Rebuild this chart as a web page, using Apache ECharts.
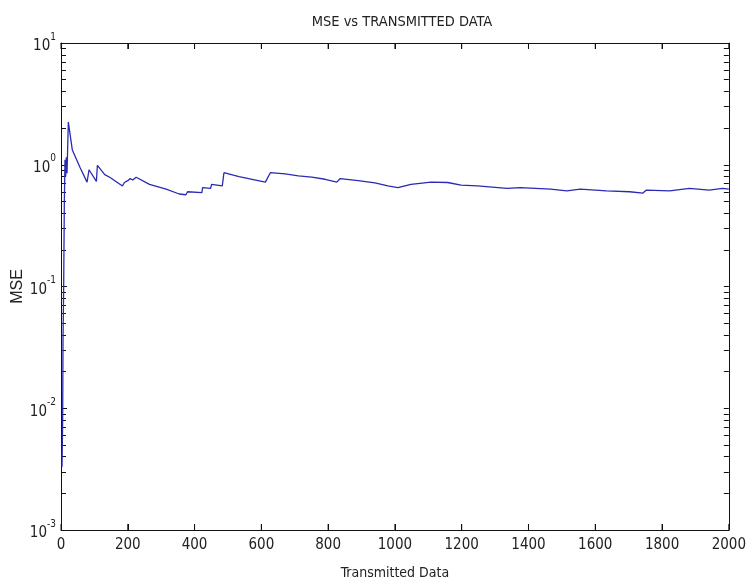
<!DOCTYPE html>
<html>
<head>
<meta charset="utf-8">
<script src="https://cdn.jsdelivr.net/npm/echarts@6/dist/echarts.min.js"></script>
<style>
  html, body { margin: 0; padding: 0; background: #fff; }
  #main { width: 749px; height: 585px; }
</style>
</head>
<body>
<div id="main"></div>
<script>
// transmitted data index (x) and MSE (y)
const sampleX = [3, 5, 6, 8, 10, 12, 14, 16, 18, 22, 34, 57, 78, 84, 106, 109, 131, 146,
  184, 190, 200, 207, 215, 225, 265, 315, 354, 374, 379, 422, 424, 448, 451, 483, 488,
  533, 612, 627, 671, 711, 751, 791, 826, 836, 890, 940, 979, 1009, 1048, 1108, 1158,
  1198, 1247, 1336, 1376, 1466, 1515, 1555, 1634, 1703, 1743, 1753, 1823, 1882, 1941,
  1981, 2000];
const mseValues = [0.0033, 0.008, 0.035, 0.1, 0.5, 1.1, 0.8, 1.15, 0.85, 2.24, 1.32, 0.95,
  0.72, 0.91, 0.73, 0.99, 0.83, 0.79, 0.67, 0.715, 0.74, 0.77, 0.75, 0.79, 0.69, 0.63,
  0.575, 0.567, 0.60, 0.59, 0.65, 0.64, 0.69, 0.67, 0.86, 0.80, 0.72, 0.86, 0.84, 0.81,
  0.79, 0.76, 0.72, 0.77, 0.74, 0.71, 0.67, 0.65, 0.69, 0.72, 0.715, 0.68, 0.67, 0.64,
  0.65, 0.63, 0.61, 0.63, 0.61, 0.60, 0.585, 0.62, 0.61, 0.64, 0.62, 0.64, 0.63];
const xTicks = [0, 200, 400, 600, 800, 1000, 1200, 1400, 1600, 1800, 2000];
const decadeExps = [-3, -2, -1, 0, 1];

// tick positions for the helper axes, as log10(v) + 10 so that range never crosses zero
const minorTicks = [];
for (let d = -3; d < 1; d++) {
  for (let k = 2; k <= 9; k++) minorTicks.push(d + Math.log10(k) + 10);
}
const majorTicks = decadeExps.map(e => e + 10);

const font = '"DejaVu Sans Condensed", "Liberation Sans", Arial, sans-serif';
const axisColor = '#111';
const textColor = '#222';
const chart = echarts.init(document.getElementById('main'));

// x ticks drawn inward from the bottom and top edges of the grid
function renderXTick(params, api) {
  const x = api.coord([api.value(0), api.value(1)])[0];
  const cs = params.coordSys;
  const style = { stroke: axisColor, lineWidth: 1 };
  return {
    type: 'group',
    children: [
      { type: 'line', shape: { x1: x, y1: cs.y + cs.height, x2: x, y2: cs.y + cs.height - 6 }, style: style },
      { type: 'line', shape: { x1: x, y1: cs.y, x2: x, y2: cs.y + 6 }, style: style }
    ]
  };
}

const option = {
  backgroundColor: '#fff',
  animation: false,
  title: {
    text: 'MSE vs TRANSMITTED DATA',
    left: 397,
    textAlign: 'center',
    top: 10,
    textStyle: { fontFamily: font, fontWeight: 'normal', fontSize: 14.5, color: textColor }
  },
  grid: { left: 61, right: 16, top: 43, bottom: 52 },
  xAxis: [{
    type: 'value', min: 0, max: 2000, interval: 200, position: 'bottom',
    name: 'Transmitted Data', nameLocation: 'middle', nameGap: 36, nameMoveOverlap: false,
    nameTextStyle: { fontFamily: font, fontSize: 14, color: textColor },
    axisLine: { show: true, lineStyle: { color: axisColor, width: 1 } },
    axisTick: { show: true, inside: true, length: 6, lineStyle: { color: axisColor, width: 1 } },
    axisLabel: { fontFamily: font, fontSize: 15, color: textColor, margin: 8, formatter: v => String(v) },
    splitLine: { show: false }
  }, {
    type: 'value', min: 0, max: 2000, interval: 200, position: 'top',
    axisLine: { show: true, lineStyle: { color: axisColor, width: 1 } },
    axisTick: { show: true, inside: true, length: 6, lineStyle: { color: axisColor, width: 1 } },
    axisLabel: { show: false },
    splitLine: { show: false }
  }],
  yAxis: [{
    type: 'log', logBase: 10, min: 0.001, max: 10, position: 'left',
    name: 'MSE', nameLocation: 'middle', nameGap: 35, nameMoveOverlap: false,
    nameTextStyle: { fontFamily: 'Arial, "Liberation Sans", sans-serif', fontSize: 16, color: textColor },
    axisLine: { show: true, lineStyle: { color: axisColor, width: 1 } },
    axisTick: { show: true, inside: true, length: 6, lineStyle: { color: axisColor, width: 1 } },
    axisLabel: {
      margin: 5,
      formatter: function (v) {
        return '{b|10}{e|' + Math.round(Math.log10(v)) + '}';
      },
      rich: {
        b: { fontFamily: font, fontSize: 15, color: textColor, lineHeight: 22, verticalAlign: 'bottom' },
        e: { fontFamily: font, fontSize: 10, color: textColor, lineHeight: 22, verticalAlign: 'top' }
      }
    },
    splitLine: { show: false }
  }, {
    type: 'log', logBase: 10, min: 0.001, max: 10, position: 'right',
    axisLine: { show: true, onZero: false, lineStyle: { color: axisColor, width: 1 } },
    axisTick: { show: false },
    axisLabel: { show: false },
    splitLine: { show: false }
  }, {
    // decade and minor ticks, left edge
    type: 'value', min: 7, max: 11, position: 'left',
    axisLine: { show: false, onZero: false },
    axisTick: { show: true, inside: true, length: 5, customValues: minorTicks.concat(majorTicks), lineStyle: { color: axisColor } },
    axisLabel: { show: false },
    splitLine: { show: false }
  }, {
    // decade and minor ticks, right edge
    type: 'value', min: 7, max: 11, position: 'right',
    axisLine: { show: false, onZero: false },
    axisTick: { show: true, inside: true, length: 5, customValues: minorTicks.concat(majorTicks), lineStyle: { color: axisColor } },
    axisLabel: { show: false },
    splitLine: { show: false }
  }],
  series: [{
    type: 'line',
    xAxisIndex: 0,
    yAxisIndex: 0,
    showSymbol: false,
    symbol: 'none',
    data: sampleX.map((x, i) => [x, mseValues[i]]),
    lineStyle: { color: '#2a2ab4', width: 1.3 },
    clip: true
  }, {
    type: 'custom',
    xAxisIndex: 0,
    yAxisIndex: 0,
    silent: true,
    clip: false,
    renderItem: renderXTick,
    data: xTicks.map(v => [v, 1])
  }]
};
chart.setOption(option);
</script>
</body>
</html>
